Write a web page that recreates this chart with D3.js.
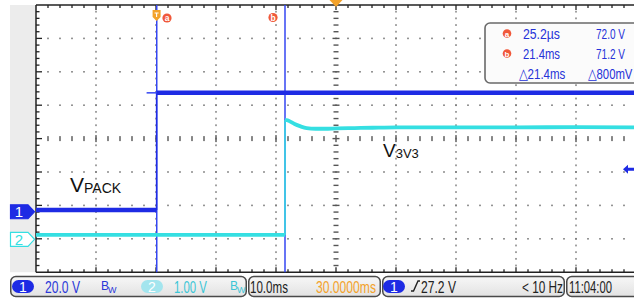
<!DOCTYPE html>
<html><head><meta charset="utf-8">
<script src="https://cdn.jsdelivr.net/npm/d3@7"></script>
<style>
html,body{margin:0;padding:0;background:#fff;}
svg{display:block;}
text{font-family:"Liberation Sans",Arial,sans-serif;}
</style></head>
<body><svg id="c" width="634" height="299"></svg>
<script>
// ---------- data ----------
const ch1Time  = [-20.1, 0.0, 0.0, 79.9];          // ms
const ch1Volts = [1.0, 1.0, 71.2, 71.2];             // V
const ch2Time  = [-20.1, 21.4, 21.4, 21.7, 22.2, 23.0, 24.0, 25.0, 26.5, 28.0, 30.0, 33.0, 36.0, 40.0, 50.0, 60.0, 70.0, 79.9];
const ch2Volts = [0.13, 0.13, 3.57, 3.57, 3.53, 3.45, 3.38, 3.33, 3.31, 3.31, 3.32, 3.33, 3.34, 3.35, 3.35, 3.35, 3.36, 3.35];
const cursorTimes = [0.0252, 21.4];                  // ms (a, b)
const cursorNames = ["a", "b"];
const ch1Scale = 20.0, ch2Scale = 1.0;               // V/div
const ch1Offset = -2.19, ch2Offset = -3.015;         // div of 0 V
const trigLevel = 27.2;                              // V
const measRows = [
  {icon:"a", t:"25.2µs", v:"72.0 V"},
  {icon:"b", t:"21.4ms", v:"71.2 V"},
  {icon:"",  t:"\u25B321.4ms", v:"\u25B3800mV"}
];
const labelMain = ["V", "V"];
const labelSub = ["PACK", "3V3"];

// ---------- geometry ----------
const L = 36, R = 636, T = 5, B = 272.2;
const svg = d3.select("#c");
const x = d3.scaleLinear().domain([-20.1, 79.9]).range([L, R]);
const yDiv = d3.scaleLinear().domain([-4, 4]).range([B, T]);
const y1 = v => yDiv(v / ch1Scale + ch1Offset);
const y2 = v => yDiv(v / ch2Scale + ch2Offset);
const gx = d3.scaleLinear().domain([-5, 5]).range([L, R]);

const C1 = "#1e2be4", C1c = "#3446f2", C2 = "#35dfe2", ORG = "#f3a22a", RED = "#f0583a";

// condensed text: natural glyphs squeezed horizontally to a target width
function txt(sel, xx, yy, s, size, color, width) {
  const t = sel.append("text").attr("x",0).attr("y",0).attr("font-size",size).attr("fill",color).text(s);
  const nat = t.node().getComputedTextLength();
  const k = width && nat > 0 ? width / nat : 1;
  t.attr("transform", `translate(${xx},${yy}) scale(${k},1)`);
  return t;
}

svg.append("rect").attr("x",10).attr("y",T).attr("width",L-10).attr("height",B-T).attr("fill","#ececec");

const grid = svg.append("g");
const dotC = "#7a7a7a";
for (let i = -4; i <= 4; i++) {
  if (i === 0) continue;
  const xx = gx(i);
  for (let k = 1; k < 40; k++) {
    const yy = T + k * (B - T) / 40;
    grid.append("rect").attr("x", xx-0.7).attr("y", yy-0.9).attr("width",1.4).attr("height",1.8).attr("fill",dotC);
  }
}
for (let j = -3; j <= 3; j++) {
  if (j === 0) continue;
  const yy = yDiv(j);
  for (let k = 1; k < 50; k++) {
    const xx = L + k * 12;
    grid.append("rect").attr("x", xx-0.8).attr("y", yy-0.8).attr("width",1.6).attr("height",1.6).attr("fill",dotC);
  }
}
for (let k = 1; k < 50; k++) {
  const xx = L + k * 12;
  const big = k % 5 === 0;
  grid.append("rect").attr("x", xx-0.7).attr("y", yDiv(0)-(big?3.5:2.5)).attr("width",1.4).attr("height",big?7:5).attr("fill","#555");
}
for (let k = 1; k < 40; k++) {
  const yy = T + k * (B - T) / 40;
  const big = k % 5 === 0;
  grid.append("rect").attr("x", gx(0)-(big?3.5:2.5)).attr("y", yy-0.7).attr("width",big?7:5).attr("height",1.4).attr("fill","#555");
}
grid.append("line").attr("x1",L).attr("x2",L).attr("y1",T).attr("y2",B).attr("stroke","#222").attr("stroke-width",1.5);
grid.append("line").attr("x1",L).attr("x2",R).attr("y1",T).attr("y2",T).attr("stroke","#222").attr("stroke-width",1.5);
grid.append("line").attr("x1",L).attr("x2",R).attr("y1",B).attr("y2",B).attr("stroke","#222").attr("stroke-width",1.5);
for (let k = 1; k < 50; k++) {
  const xx = L + k * 12, big = k % 5 === 0;
  grid.append("line").attr("x1",xx).attr("x2",xx).attr("y1",T).attr("y2",T+(big?5:3)).attr("stroke","#222").attr("stroke-width",1.3);
  grid.append("line").attr("x1",xx).attr("x2",xx).attr("y1",B).attr("y2",B-(big?5:3)).attr("stroke","#222").attr("stroke-width",1.3);
}
for (let k = 1; k < 40; k++) {
  const yy = T + k * (B - T) / 40, big = k % 5 === 0;
  grid.append("line").attr("x1",L).attr("x2",L+(big?6:3.5)).attr("y1",yy).attr("y2",yy).attr("stroke","#222").attr("stroke-width",1.3);
}

// ---------- cursors ----------
cursorTimes.forEach(t => {
  svg.append("line").attr("x1",x(t)).attr("x2",x(t)).attr("y1",T).attr("y2",B)
    .attr("stroke",C1c).attr("stroke-width",1.5);
});

// ---------- traces ----------
function drawTrace(times, volts, yf, color, w) {
  const pts = times.map((t,i)=>[x(t), yf(volts[i])]);
  const segs = [];
  let cur = [pts[0]];
  for (let i = 1; i < pts.length; i++) {
    const vertical = Math.abs(pts[i][0]-pts[i-1][0]) < 0.01;
    if (vertical) {
      svg.append("line").attr("x1",pts[i-1][0]).attr("y1",pts[i-1][1]).attr("x2",pts[i][0]).attr("y2",pts[i][1])
        .attr("stroke",color).attr("stroke-width",1.5);
      segs.push(cur); cur = [pts[i]];
    } else cur.push(pts[i]);
  }
  segs.push(cur);
  segs.forEach(s => {
    if (s.length > 1) svg.append("path").attr("d", d3.line().curve(d3.curveMonotoneX)(s))
      .attr("fill","none").attr("stroke",color).attr("stroke-width",w);
  });
}
drawTrace(ch2Time, ch2Volts, y2, C2, 3.8);
drawTrace(ch1Time, ch1Volts, y1, C1, 4.5);
svg.append("line").attr("x1",x(ch1Time[1])-10).attr("x2",x(ch1Time[1])).attr("y1",y1(ch1Volts[2])).attr("y2",y1(ch1Volts[2])).attr("stroke",C1c).attr("stroke-width",1.5);

// ---------- channel markers ----------
function chMarker(yy, label, fill, stroke, tcolor) {
  const g = svg.append("g");
  g.append("path").attr("d",`M10.5,${yy-7}H28L34.5,${yy}L28,${yy+7}H10.5Z`).attr("fill",fill).attr("stroke",stroke).attr("stroke-width",1.2);
  g.append("text").attr("x",19).attr("y",yy+5.5).attr("text-anchor","middle").attr("font-size",15).attr("fill",tcolor).text(label);
}
chMarker(y1(0), "1", C1, C1, "#fff");
chMarker(y2(0), "2", "#fff", C2, C2);

const ty = y1(trigLevel) + 3;
svg.append("path").attr("d",`M623,${ty}L628,${ty-4.5}V${ty-1.5}H634V${ty+1.5}H628V${ty+4.5}Z`).attr("fill",C1);

// ---------- top markers ----------
svg.append("path").attr("d","M329.5,0H342.5L336,7Z").attr("fill",ORG);
const tx = x(0);
svg.append("path").attr("d",`M${tx-4},10H${tx+4}V17L${tx},21L${tx-4},17Z`).attr("fill",ORG);
svg.append("path").attr("d",`M${tx-2},13H${tx+2}M${tx},13V17`).attr("stroke","#fff").attr("stroke-width",1.1);
const cpos = [[167,18],[273,17.5]];
cursorNames.forEach((n,i)=>{
  svg.append("circle").attr("cx",cpos[i][0]).attr("cy",cpos[i][1]).attr("r",4.6).attr("fill",RED);
  svg.append("text").attr("x",cpos[i][0]).attr("y",cpos[i][1]+3).attr("text-anchor","middle").attr("font-size",8.5).attr("font-weight","bold").attr("fill","#fff").text(n);
});

// ---------- measurement box ----------
svg.append("rect").attr("x",485).attr("y",23).attr("width",160).attr("height",60).attr("rx",5)
  .attr("fill","#fbfbfb").attr("stroke","#6a6a6a").attr("stroke-width",1.6);
const mW = [[37,29],[37,29],[47,45]];
measRows.forEach((r,i)=>{
  const by = 38.5 + i*20;
  if (r.icon) {
    svg.append("circle").attr("cx",507).attr("cy",by-5).attr("r",4.3).attr("fill",RED);
    svg.append("text").attr("x",507).attr("y",by-2).attr("text-anchor","middle").attr("font-size",8).attr("font-weight","bold").attr("fill","#fff").text(r.icon);
  }
  txt(svg, r.icon?523:519, by, r.t, 15, "#2532d8", mW[i][0]);
  txt(svg, r.icon?596:588, by, r.v, 15, "#2532d8", mW[i][1]);
});

// ---------- trace labels ----------
const lab1 = svg.append("text").attr("x",70).attr("y",192).attr("fill","#111");
lab1.append("tspan").attr("font-size",21).text(labelMain[0]);
lab1.append("tspan").attr("font-size",14).attr("dy",1).text(labelSub[0]);
const lab2 = svg.append("text").attr("x",383).attr("y",157).attr("fill","#111");
lab2.append("tspan").attr("font-size",19).text(labelMain[1]);
lab2.append("tspan").attr("font-size",13).attr("dy",0.5).text(labelSub[1]);

// ---------- bottom bar ----------
const grad = svg.append("defs").append("linearGradient").attr("id","bg").attr("x1",0).attr("x2",0).attr("y1",0).attr("y2",1);
grad.append("stop").attr("offset","0").attr("stop-color","#f7f7f7");
grad.append("stop").attr("offset","1").attr("stop-color","#e2e2e2");
const boxes = [[10,247],[248,381],[382,565],[566,650]];
boxes.forEach(b=>{
  svg.append("rect").attr("x",b[0]+0.75).attr("y",276.5).attr("width",b[1]-b[0]-1.5).attr("height",20).attr("rx",5)
    .attr("fill","url(#bg)").attr("stroke","#4a4a4a").attr("stroke-width",1.5);
});
function pill(x0, fill, label) {
  svg.append("rect").attr("x",x0).attr("y",280).attr("width",22).attr("height",13).attr("rx",6.5).attr("fill",fill);
  svg.append("text").attr("x",x0+11).attr("y",291.5).attr("text-anchor","middle").attr("font-size",14).attr("fill","#fff").text(label);
}
const bottomTexts = [
  {x:45,  t:(ch1Scale).toFixed(1)+" V", c:"#2a38d8", w:35},
  {x:174, t:(ch2Scale).toFixed(2)+" V", c:"#3cc6d6", w:33},
  {x:250, t:"10.0ms", c:"#222", w:38},
  {x:316, t:"30.0000ms", c:ORG, w:60},
  {x:421, t:trigLevel.toFixed(1)+" V", c:"#222", w:35},
  {x:522, t:"< 10 Hz", c:"#222", w:41},
  {x:569, t:"11:04:00", c:"#222", w:43}
];
pill(12, C1, "1");
pill(141, "#a3e5ee", "2");
pill(383, C1, "1");
bottomTexts.forEach(d=>{ txt(svg, d.x, 292.5, d.t, 16, d.c, d.w); });
function bw(x0, c) {
  const t = svg.append("text").attr("x",x0).attr("y",290).attr("font-size",12).attr("fill",c);
  t.append("tspan").text("B");
  t.append("tspan").attr("dy",3).attr("font-size",9).attr("dx",-1).text("W");
}
bw(101, "#2a38d8");
bw(230, "#3cc6d6");
svg.append("path").attr("d","M411,291H413.5L418,281H420").attr("fill","none").attr("stroke","#222").attr("stroke-width",1.4);
</script></body></html>
